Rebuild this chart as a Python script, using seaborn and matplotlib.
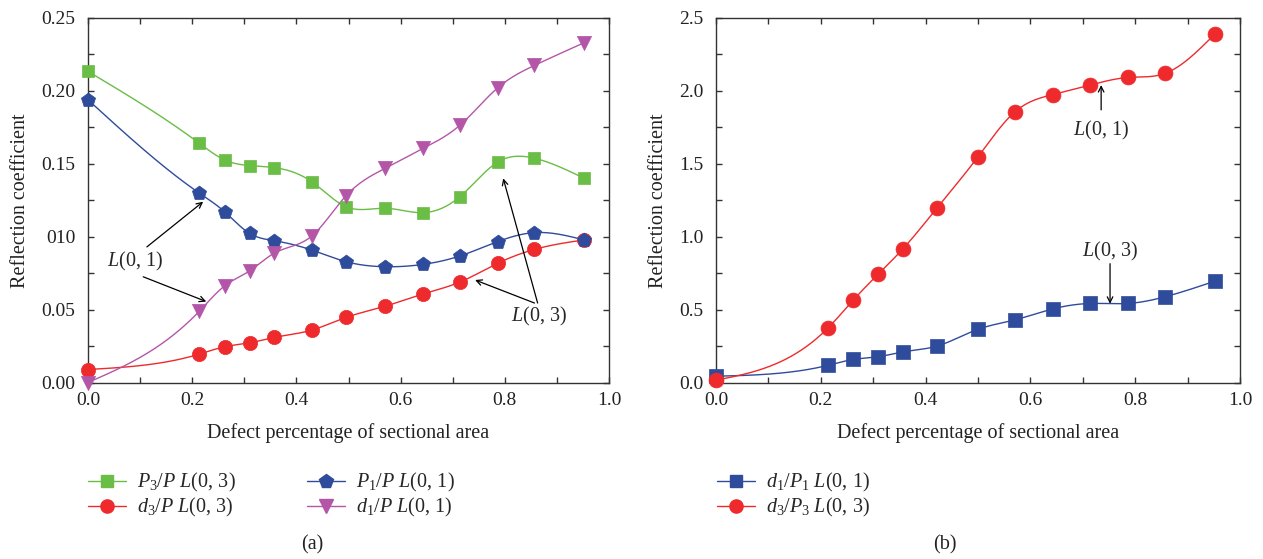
import numpy as np
import matplotlib
matplotlib.use("Agg")
import matplotlib.pyplot as plt
import seaborn as sns
from matplotlib.lines import Line2D

# ---------------- data ----------------
x_vals = [0.0, 0.214, 0.262, 0.310, 0.357, 0.429, 0.495, 0.571, 0.643, 0.714, 0.786, 0.857, 0.952]

p3_over_p = [0.2134, 0.1640, 0.1527, 0.1488, 0.1474, 0.1378, 0.1206, 0.1195, 0.1165, 0.1275, 0.1511, 0.1538, 0.1401]
d3_over_p = [0.0089, 0.0195, 0.0245, 0.0272, 0.0309, 0.0359, 0.0446, 0.0524, 0.0607, 0.0689, 0.0817, 0.0913, 0.0978]
p1_over_p = [0.1939, 0.1298, 0.1172, 0.1023, 0.0973, 0.0909, 0.0829, 0.0794, 0.0810, 0.0868, 0.0966, 0.1028, 0.0978]
d1_over_p = [0.0000, 0.0490, 0.0662, 0.0765, 0.0886, 0.1003, 0.1280, 0.1470, 0.1605, 0.1765, 0.2020, 0.2175, 0.2330]

x_vals_b = [0.0, 0.214, 0.262, 0.310, 0.357, 0.422, 0.500, 0.571, 0.643, 0.714, 0.786, 0.857, 0.952]
d1_over_p1 = [0.043, 0.118, 0.158, 0.177, 0.210, 0.250, 0.365, 0.430, 0.505, 0.542, 0.542, 0.588, 0.695]
d3_over_p3 = [0.016, 0.375, 0.565, 0.745, 0.918, 1.198, 1.548, 1.858, 1.975, 2.040, 2.092, 2.120, 2.390]

yticks_a = [0.00, 0.05, 0.10, 0.15, 0.20, 0.25]
yticklabels_a = ["0.00", "0.05", "010", "0.15", "0.20", "0.25"]
yticks_b = [0.0, 0.5, 1.0, 1.5, 2.0, 2.5]
yticklabels_b = ["0.0", "0.5", "1.0", "1.5", "2.0", "2.5"]
xticks = [0.0, 0.2, 0.4, 0.6, 0.8, 1.0]
xticklabels = ["0.0", "0.2", "0.4", "0.6", "0.8", "1.0"]

labels_a = [r"$P_3/P\ L(0,\,3)$", r"$d_3/P\ L(0,\,3)$", r"$P_1/P\ L(0,\,1)$", r"$d_1/P\ L(0,\,1)$"]
labels_b = [r"$d_1/P_1\ L(0,\,1)$", r"$d_3/P_3\ L(0,\,3)$"]

GREEN = "#6abd45"
RED = "#ee2a2c"
BLUE = "#2f4b9c"
MAGENTA = "#b456a8"


def natural_spline(x, y, n=400):
    x = np.asarray(x, float)
    y = np.asarray(y, float)
    m = len(x)
    h = np.diff(x)
    A = np.zeros((m, m))
    rhs = np.zeros(m)
    A[0, 0] = 1.0
    A[-1, -1] = 1.0
    for i in range(1, m - 1):
        A[i, i - 1] = h[i - 1]
        A[i, i] = 2 * (h[i - 1] + h[i])
        A[i, i + 1] = h[i]
        rhs[i] = 3 * ((y[i + 1] - y[i]) / h[i] - (y[i] - y[i - 1]) / h[i - 1])
    c = np.linalg.solve(A, rhs)
    b = (y[1:] - y[:-1]) / h - h * (2 * c[:-1] + c[1:]) / 3
    d = (c[1:] - c[:-1]) / (3 * h)
    xs = np.linspace(x[0], x[-1], n)
    idx = np.clip(np.searchsorted(x, xs, side="right") - 1, 0, m - 2)
    dt = xs - x[idx]
    ys = y[idx] + b[idx] * dt + c[idx] * dt ** 2 + d[idx] * dt ** 3
    return xs, ys


sns.set_style("ticks")
plt.rcParams["font.family"] = ["Liberation Serif", "DejaVu Serif"]
plt.rcParams["mathtext.fontset"] = "custom"
plt.rcParams["mathtext.rm"] = "Liberation Serif"
plt.rcParams["mathtext.it"] = "Liberation Serif:italic"
plt.rcParams["mathtext.bf"] = "Liberation Serif:bold"
plt.rcParams["axes.edgecolor"] = "#333333"
plt.rcParams["axes.linewidth"] = 1.0

fig = plt.figure(figsize=(12.63, 5.59), dpi=100)
ax1 = fig.add_axes([88 / 1263, 1 - 382.5 / 559, 521 / 1263, 364.5 / 559])
ax2 = fig.add_axes([716 / 1263, 1 - 382.5 / 559, 524 / 1263, 364.5 / 559])

TFS = 14
LFS = 14.5


def draw(ax, x, y, color, marker, size):
    xs, ys = natural_spline(x, y)
    sns.lineplot(x=xs, y=ys, color=color, lw=1.0, ax=ax, sort=False, zorder=2)
    sns.scatterplot(x=x, y=y, color=color, marker=marker, s=size, edgecolor=color,
                    linewidth=0.5, ax=ax, zorder=3, clip_on=False)


draw(ax1, x_vals, p3_over_p, GREEN, "s", 85)
draw(ax1, x_vals, d3_over_p, RED, "o", 105)
draw(ax1, x_vals, p1_over_p, BLUE, "p", 115)
draw(ax1, x_vals, d1_over_p, MAGENTA, "v", 105)

draw(ax2, x_vals_b, d1_over_p1, BLUE, "s", 90)
draw(ax2, x_vals_b, d3_over_p3, RED, "o", 115)

for ax, yt, ytl, ylim, minor in [(ax1, yticks_a, yticklabels_a, (0, 0.25), 0.025),
                                  (ax2, yticks_b, yticklabels_b, (0, 2.5), 0.25)]:
    ax.set_xlim(0, 1.0)
    ax.set_ylim(*ylim)
    ax.set_xticks(xticks)
    ax.set_xticklabels(xticklabels)
    ax.set_xticks(np.arange(0.1, 1.0, 0.2), minor=True)
    ax.set_yticks(yt)
    ax.set_yticklabels(ytl)
    ax.set_yticks(np.arange(minor, ylim[1], 2 * minor), minor=True)
    ax.tick_params(which="both", direction="in", top=True, right=True,
                   labelsize=TFS, colors="#333333", labelcolor="#222222", length=4, width=1.0)
    ax.tick_params(axis="y", which="major", pad=9)
    ax.tick_params(axis="x", which="major", pad=7)
    ax.set_xlabel("Defect percentage of sectional area", fontsize=LFS, color="#222222", labelpad=10)
    ax.set_ylabel("Reflection coefficient", fontsize=LFS, color="#222222", labelpad=8)
    for s in ax.spines.values():
        s.set_visible(True)

arrow = dict(arrowstyle="->", color="black", lw=0.9, shrinkA=0, shrinkB=0)
ax1.text(0.0915, 0.083, r"$L(0,\,1)$", fontsize=LFS, ha="center", va="center")
ax1.annotate("", xy=(0.221, 0.124), xytext=(0.113, 0.093), arrowprops=arrow)
ax1.annotate("", xy=(0.227, 0.0555), xytext=(0.106, 0.0725), arrowprops=arrow)
ax1.text(0.866, 0.0455, r"$L(0,\,3)$", fontsize=LFS, ha="center", va="center")
ax1.annotate("", xy=(0.797, 0.140), xytext=(0.863, 0.0545), arrowprops=arrow)
ax1.annotate("", xy=(0.743, 0.0703), xytext=(0.857, 0.0545), arrowprops=arrow)

ax2.text(0.735, 1.73, r"$L(0,\,1)$", fontsize=LFS, ha="center", va="center")
ax2.annotate("", xy=(0.735, 2.04), xytext=(0.735, 1.87), arrowprops=arrow)
ax2.text(0.752, 0.90, r"$L(0,\,3)$", fontsize=LFS, ha="center", va="center")
ax2.annotate("", xy=(0.752, 0.54), xytext=(0.752, 0.815), arrowprops=arrow)


def handle(color, marker, ms):
    return Line2D([0], [0], color=color, lw=1.0, marker=marker, markersize=ms,
                  markerfacecolor=color, markeredgecolor=color)


handles_a = [handle(GREEN, "s", 8.5), handle(RED, "o", 9.5),
             handle(BLUE, "p", 10.5), handle(MAGENTA, "v", 10.5)]
fig.legend(handles_a, labels_a, loc="upper left", bbox_to_anchor=(80 / 1263, 1 - 463 / 559),
           ncol=2, frameon=False, fontsize=LFS, handlelength=1.9, columnspacing=3.5,
           labelspacing=0.1, handletextpad=0.55, borderaxespad=0)

handles_b = [handle(BLUE, "s", 8.5), handle(RED, "o", 9.5)]
fig.legend(handles_b, labels_b, loc="upper left", bbox_to_anchor=(709 / 1263, 1 - 463 / 559),
           ncol=1, frameon=False, fontsize=LFS, handlelength=1.9,
           labelspacing=0.1, handletextpad=0.55, borderaxespad=0)

fig.text(312 / 1263, 1 - 545 / 559, "(a)", fontsize=LFS, ha="center", va="center", color="#222222")
fig.text(945 / 1263, 1 - 545 / 559, "(b)", fontsize=LFS, ha="center", va="center", color="#222222")

fig.savefig("out.png", dpi=100)
